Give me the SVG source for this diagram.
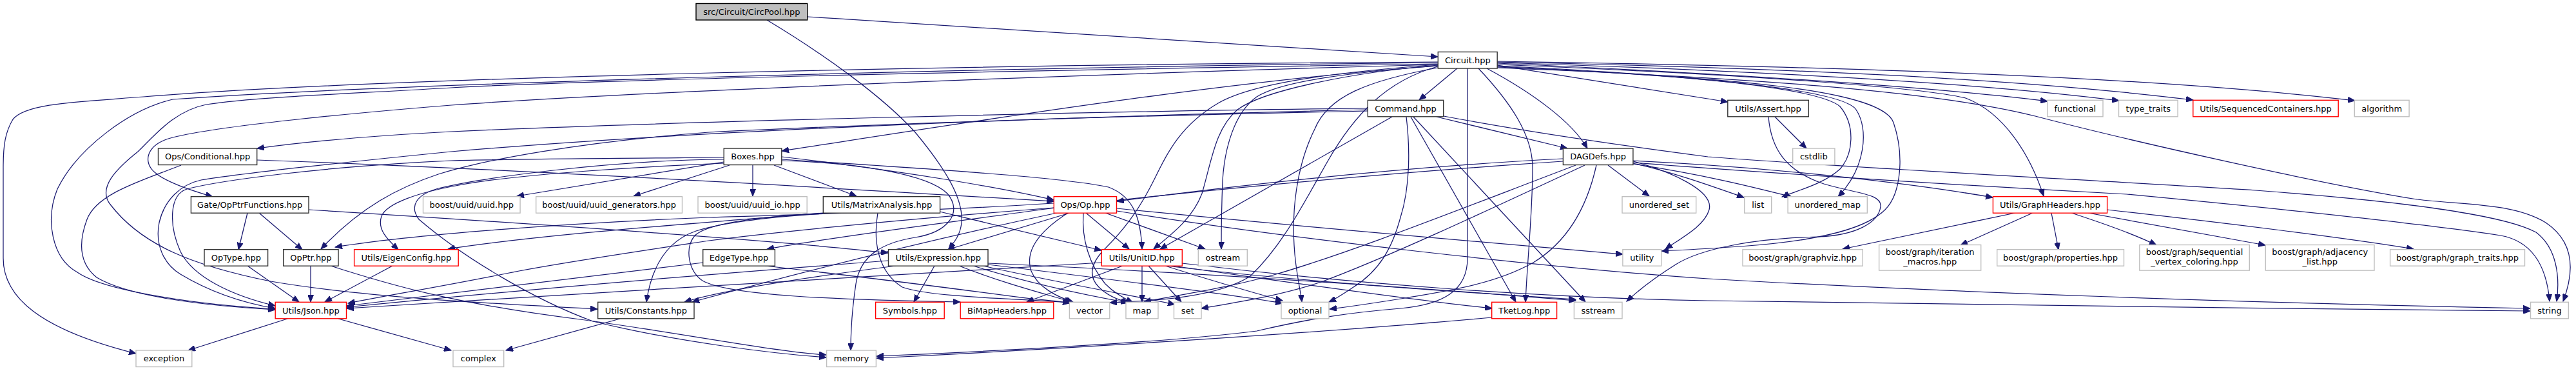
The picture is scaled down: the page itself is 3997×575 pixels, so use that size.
<svg xmlns="http://www.w3.org/2000/svg" width="3997" height="575" viewBox="0 0 3997 575">
<defs>
<marker id="a" markerUnits="userSpaceOnUse" markerWidth="12" markerHeight="9" refX="11" refY="4.5" orient="auto"><path d="M0,0 L11,4.5 L0,9 z" fill="#191970" stroke="#191970" stroke-width="1"/></marker>
<style>
.e{fill:none;stroke:#191970;stroke-width:1.25;marker-end:url(#a)}
rect{fill:#fff;stroke-width:1.4}
.k rect{stroke:#333}
.r rect{stroke:#ff0000}
.g rect{stroke:#bfbfbf}
.root rect{fill:#bfbfbf;stroke:#000}
text{font-family:"DejaVu Sans","Liberation Sans",sans-serif;font-size:13px;text-anchor:middle;fill:#000}
</style>
</defs>
<rect x="0" y="0" width="3997" height="575" fill="#fff" stroke="none"/>
<g id="edges">
<path class="e" d="M1253,26 C1600,48 1950,70 2231,88"/>
<path class="e" d="M1190,31 C1280,85 1370,150 1420,205 C1470,265 1495,310 1492,345 C1490,365 1480,376 1472,386"/>
<path class="e" d="M2261,106 L2202,155"/>
<path class="e" d="M2231,102 C1900,125 1500,190 1213,234"/>
<path class="e" d="M2307,106 C2380,145 2440,190 2463,230"/>
<path class="e" d="M2323,101 C2450,122 2580,142 2681,158"/>
<path class="e" d="M2323,98 C2700,115 3000,135 3177,157"/>
<path class="e" d="M2323,97 C2800,112 3100,132 3288,156"/>
<path class="e" d="M2323,96 C2900,108 3200,130 3403,155"/>
<path class="e" d="M2323,95 C2900,104 3350,120 3654,156"/>
<path class="e" d="M2323,100 C2700,115 2980,135 3050,152 C3110,175 3150,240 3171,304"/>
<path class="e" d="M2323,102 C2600,115 2820,135 2855,165 C2880,195 2875,240 2855,262 C2830,285 2790,295 2765,305"/>
<path class="e" d="M2323,103 C2650,118 2860,140 2880,170 C2900,200 2895,260 2852,305"/>
<path class="e" d="M2323,104 C2700,120 2920,140 2938,190 C2955,240 2950,300 2925,325 C2890,360 2800,375 2700,382 C2640,386 2600,388 2578,389"/>
<path class="e" d="M2744,181 C2748,230 2770,265 2830,285 C2880,300 2920,300 2918,320 C2915,345 2880,365 2820,367 C2720,370 2640,385 2600,410 C2565,432 2540,452 2524,467"/>
<path class="e" d="M2323,105 C2700,120 3000,140 3158,180 C3300,217 3600,285 3750,309 C3830,318 3900,315 3950,345 C3995,375 3995,420 3977,467"/>
<path class="e" d="M2294,106 C2345,160 2378,210 2378,260 C2378,330 2370,400 2367,468"/>
<path class="e" d="M2277,106 L2277,400 C2277,450 2240,472 2173,478 C2100,484 2040,492 1950,513 C1800,532 1500,546 1360,552"/>
<path class="e" d="M2315,492 C2100,512 1700,538 1360,555"/>
<path class="e" d="M2236,104 C2120,125 2060,150 2040,200 C2010,260 2005,330 2008,380 C2010,420 2018,450 2020,468"/>
<path class="e" d="M2231,103 C2150,125 2100,180 2060,250 C2020,320 1990,380 1940,428 C1890,460 1800,466 1722,469"/>
<path class="e" d="M2231,100 C2100,110 1950,125 1890,160 C1830,195 1810,240 1790,280 C1765,330 1740,360 1715,385 C1690,410 1690,430 1705,445 C1718,458 1735,465 1752,469"/>
<path class="e" d="M2231,101 C2100,112 1960,140 1920,170 C1885,200 1880,250 1865,300 C1850,340 1815,365 1790,386"/>
<path class="e" d="M2231,102 C2100,112 1990,125 1950,150 C1915,175 1900,230 1897,280 C1895,330 1895,360 1895,386"/>
<path class="e" d="M2231,97 C1500,105 600,130 268,154 C200,170 120,230 89,293 C70,340 80,400 120,422 C160,450 300,472 427,479"/>
<path class="e" d="M2231,96 C1500,100 600,120 223,150 C120,158 40,160 20,185 C8,205 5,225 5,260 L5,400 C5,460 60,510 211,548"/>
<path class="e" d="M2231,99 C1500,110 900,125 700,136 C550,145 400,150 320,162 C270,172 240,210 214,235 C180,262 150,292 172,318 C220,380 300,412 420,436 C560,460 750,470 927,479"/>
<path class="e" d="M2231,100 C1500,120 900,148 700,163 C550,175 340,195 268,213 C225,224 222,252 240,267 C258,283 300,296 330,305"/>
<path class="e" d="M2122,168 C1700,172 1000,190 700,204 C550,212 470,220 399,230"/>
<path class="e" d="M2122,170 C1700,180 1100,200 700,235 C550,250 380,268 312,279 C280,286 255,310 247,345 C240,380 255,410 280,425 C330,455 380,470 427,478"/>
<path class="e" d="M2122,172 C1700,180 1300,195 1100,205 C900,220 750,248 680,270 C620,290 560,320 498,386"/>
<path class="e" d="M2160,181 L1800,386"/>
<path class="e" d="M2182,181 C2188,230 2188,290 2173,337 C2160,385 2140,420 2100,445 C2085,455 2075,462 2062,468"/>
<path class="e" d="M2189,181 L2352,468"/>
<path class="e" d="M2193,181 L2460,468"/>
<path class="e" d="M2229,181 L2432,230"/>
<path class="e" d="M2240,180 C2400,210 2550,230 2650,243 C2900,262 3300,282 3500,295 C3700,310 3880,330 3935,360 C3968,385 3972,430 3967,467"/>
<path class="e" d="M2754,181 L2803,230"/>
<path class="e" d="M2425,246 C2150,260 1900,290 1733,312"/>
<path class="e" d="M2425,250 C2150,268 1800,300 1600,327 C1450,348 1300,366 1190,386"/>
<path class="e" d="M2445,256 C2250,330 2100,390 1980,425 C1900,448 1820,458 1775,468"/>
<path class="e" d="M2459,256 C2300,330 2150,400 2050,437 C1980,460 1910,470 1864,478"/>
<path class="e" d="M2477,256 C2465,310 2440,370 2379,407 C2320,440 2250,450 2180,462 C2130,470 2090,476 2063,479"/>
<path class="e" d="M2495,256 L2559,304"/>
<path class="e" d="M2534,250 C2590,265 2660,295 2652,325 C2645,350 2610,368 2584,386"/>
<path class="e" d="M2534,253 C2600,268 2660,290 2706,306"/>
<path class="e" d="M2534,254 C2650,272 2720,290 2780,305"/>
<path class="e" d="M2534,249 C2800,262 3000,290 3092,306"/>
<path class="e" d="M2534,252 C2700,265 3000,285 3300,301 C3500,320 3750,345 3880,365 C3935,375 3952,420 3956,467"/>
<path class="e" d="M281,256 C220,280 150,300 135,340 C120,380 125,410 150,430 C200,460 320,474 427,480"/>
<path class="e" d="M399,248 C800,262 1300,292 1635,312"/>
<path class="e" d="M384,330 L370,387"/>
<path class="e" d="M402,330 L469,387"/>
<path class="e" d="M479,325 C800,345 1200,372 1378,392"/>
<path class="e" d="M384,412 L464,468"/>
<path class="e" d="M482,412 L482,468"/>
<path class="e" d="M513,412 C600,440 700,470 900,495 C1050,515 1200,545 1282,550"/>
<path class="e" d="M609,412 L504,468"/>
<path class="e" d="M446,494 L292,543"/>
<path class="e" d="M525,494 L700,543"/>
<path class="e" d="M962,494 L785,543"/>
<path class="e" d="M1123,251 L802,304"/>
<path class="e" d="M1132,256 L983,304"/>
<path class="e" d="M1168,256 L1168,304"/>
<path class="e" d="M1201,256 L1329,304"/>
<path class="e" d="M1123,244 C1000,245 800,246 700,249 C500,258 340,280 290,293 C262,302 262,350 280,390 C300,430 360,458 427,474"/>
<path class="e" d="M1123,253 C1000,258 800,270 712,287 C650,298 600,315 592,335 C585,355 600,370 618,387"/>
<path class="e" d="M1213,243 C1400,265 1550,290 1635,310"/>
<path class="e" d="M1213,247 C1450,262 1650,275 1720,290 C1760,305 1770,340 1772,386"/>
<path class="e" d="M1123,247 C950,248 750,275 680,292 C645,302 635,320 650,340 C720,400 830,465 920,498 C1050,530 1200,548 1282,554"/>
<path class="e" d="M1213,249 C1330,252 1440,270 1470,300 C1495,330 1470,360 1420,368 C1370,376 1335,395 1328,440 C1322,480 1320,510 1320,543"/>
<path class="e" d="M1277,330 C1100,345 850,362 695,386"/>
<path class="e" d="M1277,331 C1200,336 1120,345 1080,358 C1030,375 1010,420 1003,468"/>
<path class="e" d="M1290,330 C1180,335 1100,345 1078,365 C1062,385 1068,420 1090,435 C1130,458 1300,465 1490,468"/>
<path class="e" d="M1362,330 C1355,370 1360,420 1400,445 C1450,462 1580,462 1660,469"/>
<path class="e" d="M1458,328 L1709,388"/>
<path class="e" d="M1091,407 L538,474"/>
<path class="e" d="M1187,412 C1350,430 1500,450 1600,463 C1630,466 1645,467 1660,470"/>
<path class="e" d="M1450,412 L1418,468"/>
<path class="e" d="M1378,404 C1100,425 800,450 538,476"/>
<path class="e" d="M1390,412 C1250,430 1120,450 1062,468"/>
<path class="e" d="M1488,412 C1560,440 1620,455 1663,468"/>
<path class="e" d="M1510,412 C1600,440 1700,460 1750,469"/>
<path class="e" d="M1525,412 C1650,440 1780,462 1823,472"/>
<path class="e" d="M1533,410 C1700,430 1900,455 1990,470"/>
<path class="e" d="M1533,408 C1800,420 2200,445 2445,466"/>
<path class="e" d="M1742,412 L1593,468"/>
<path class="e" d="M1772,412 L1772,468"/>
<path class="e" d="M1782,412 L1833,468"/>
<path class="e" d="M1808,412 C1880,435 1950,455 1990,466"/>
<path class="e" d="M1709,407 C1400,425 900,455 538,478"/>
<path class="e" d="M1810,412 C2000,435 2300,455 2445,464"/>
<path class="e" d="M1812,411 C1950,430 2150,460 2315,478"/>
<path class="e" d="M1834,408 C2100,440 2400,462 2650,466 C3000,472 3500,478 3926,482"/>
<path class="e" d="M1635,315 C1400,330 1150,335 1100,337 C900,345 650,362 520,383"/>
<path class="e" d="M1635,322 C1400,340 1200,360 1100,373 C1000,388 850,410 780,425 C680,445 600,458 540,470"/>
<path class="e" d="M1640,330 C1450,370 1250,420 1074,468"/>
<path class="e" d="M1660,330 L1470,387"/>
<path class="e" d="M1685,330 L1752,386"/>
<path class="e" d="M1715,330 L1870,386"/>
<path class="e" d="M1657,330 C1610,360 1590,390 1600,420 C1610,445 1640,460 1665,468"/>
<path class="e" d="M1681,330 C1678,370 1690,410 1715,440 C1730,455 1745,463 1758,469"/>
<path class="e" d="M1733,323 C2000,350 2300,375 2518,394"/>
<path class="e" d="M1733,327 C2000,370 2400,415 2650,432 C3000,452 3500,470 3926,478"/>
<path class="e" d="M3127,330 L2859,386"/>
<path class="e" d="M3154,330 L3042,380"/>
<path class="e" d="M3183,330 L3194,387"/>
<path class="e" d="M3214,330 C3260,345 3310,362 3346,380"/>
<path class="e" d="M3240,330 C3350,350 3450,368 3515,380"/>
<path class="e" d="M3269,325 C3450,345 3650,370 3745,386"/>
</g>
<g id="nodes">
<g id="n-circpool" class="root"><rect x="1080" y="5.5" width="172.7" height="25.5"/><text x="1166.4" y="22.7">src/Circuit/CircPool.hpp</text></g>
<g id="n-circuit" class="k"><rect x="2231.3" y="80.5" width="91.9" height="25.5"/><text x="2277.3" y="97.7">Circuit.hpp</text></g>
<g id="n-command" class="k"><rect x="2122.3" y="155.3" width="117.4" height="25.5"/><text x="2181" y="172.5">Command.hpp</text></g>
<g id="n-assert" class="k"><rect x="2680.8" y="155.3" width="125.5" height="25.5"/><text x="2743.5" y="172.5">Utils/Assert.hpp</text></g>
<g id="n-functional" class="g"><rect x="3176.8" y="155.3" width="86.2" height="25.5"/><text x="3219.9" y="172.5">functional</text></g>
<g id="n-type-traits" class="g"><rect x="3287.5" y="155.3" width="91.6" height="25.5"/><text x="3333.3" y="172.5">type_traits</text></g>
<g id="n-seqcont" class="r"><rect x="3402.8" y="155.3" width="225.4" height="25.5"/><text x="3515.5" y="172.5">Utils/SequencedContainers.hpp</text></g>
<g id="n-algorithm" class="g"><rect x="3653.3" y="155.3" width="84.8" height="25.5"/><text x="3695.7" y="172.5">algorithm</text></g>
<g id="n-conditional" class="k"><rect x="245.5" y="230" width="153.2" height="25.5"/><text x="322.1" y="247.2">Ops/Conditional.hpp</text></g>
<g id="n-boxes" class="k"><rect x="1123.2" y="230" width="89.6" height="25.5"/><text x="1168" y="247.2">Boxes.hpp</text></g>
<g id="n-dagdefs" class="k"><rect x="2425.4" y="230" width="108.5" height="25.5"/><text x="2479.6" y="247.2">DAGDefs.hpp</text></g>
<g id="n-cstdlib" class="g"><rect x="2781.7" y="230" width="65.2" height="25.5"/><text x="2814.3" y="247.2">cstdlib</text></g>
<g id="n-opptrfunctions" class="k"><rect x="296.4" y="304.7" width="182.6" height="25.5"/><text x="387.7" y="321.9">Gate/OpPtrFunctions.hpp</text></g>
<g id="n-uuid" class="g"><rect x="656.5" y="304.7" width="150.6" height="25.5"/><text x="731.8" y="321.9">boost/uuid/uuid.hpp</text></g>
<g id="n-uuid-gen" class="g"><rect x="831.7" y="304.7" width="226.8" height="25.5"/><text x="945.1" y="321.9">boost/uuid/uuid_generators.hpp</text></g>
<g id="n-uuid-io" class="g"><rect x="1083" y="304.7" width="169.2" height="25.5"/><text x="1167.6" y="321.9">boost/uuid/uuid_io.hpp</text></g>
<g id="n-matrixanalysis" class="k"><rect x="1277.3" y="304.7" width="181.3" height="25.5"/><text x="1368" y="321.9">Utils/MatrixAnalysis.hpp</text></g>
<g id="n-op" class="r"><rect x="1635.3" y="304.7" width="97.2" height="25.5"/><text x="1683.9" y="321.9">Ops/Op.hpp</text></g>
<g id="n-unordered-set" class="g"><rect x="2517" y="304.7" width="114.7" height="25.5"/><text x="2574.4" y="321.9">unordered_set</text></g>
<g id="n-list" class="g"><rect x="2706.7" y="304.7" width="42" height="25.5"/><text x="2727.7" y="321.9">list</text></g>
<g id="n-unordered-map" class="g"><rect x="2774.1" y="304.7" width="123.2" height="25.5"/><text x="2835.7" y="321.9">unordered_map</text></g>
<g id="n-graphheaders" class="r"><rect x="3092.4" y="304.7" width="177.2" height="25.5"/><text x="3181" y="321.9">Utils/GraphHeaders.hpp</text></g>
<g id="n-optype" class="k"><rect x="317" y="386.7" width="98.6" height="25.5"/><text x="366.3" y="403.9">OpType.hpp</text></g>
<g id="n-opptr" class="k"><rect x="439.7" y="386.7" width="85.3" height="25.5"/><text x="482.4" y="403.9">OpPtr.hpp</text></g>
<g id="n-eigenconfig" class="r"><rect x="549.6" y="386.7" width="161.6" height="25.5"/><text x="630.4" y="403.9">Utils/EigenConfig.hpp</text></g>
<g id="n-edgetype" class="k"><rect x="1090.7" y="386.7" width="111.7" height="25.5"/><text x="1146.6" y="403.9">EdgeType.hpp</text></g>
<g id="n-expression" class="k"><rect x="1378.5" y="386.7" width="154.5" height="25.5"/><text x="1455.8" y="403.9">Utils/Expression.hpp</text></g>
<g id="n-unitid" class="r"><rect x="1709.3" y="386.7" width="125" height="25.5"/><text x="1771.8" y="403.9">Utils/UnitID.hpp</text></g>
<g id="n-ostream" class="g"><rect x="1859.3" y="386.7" width="76" height="25.5"/><text x="1897.3" y="403.9">ostream</text></g>
<g id="n-utility" class="g"><rect x="2517.9" y="386.7" width="59.8" height="25.5"/><text x="2547.8" y="403.9">utility</text></g>
<g id="n-graphviz" class="g"><rect x="2704" y="386.7" width="186.2" height="25.5"/><text x="2797.1" y="403.9">boost/graph/graphviz.hpp</text></g>
<g id="n-iteration" class="g"><rect x="2915.6" y="379.5" width="158.1" height="39.6"/><text x="2994.7" y="395.3">boost/graph/iteration</text><text x="2994.7" y="409.8">_macros.hpp</text></g>
<g id="n-properties" class="g"><rect x="3098.7" y="386.7" width="196.8" height="25.5"/><text x="3197.1" y="403.9">boost/graph/properties.hpp</text></g>
<g id="n-seqcolor" class="g"><rect x="3319.8" y="379.5" width="170.5" height="39.6"/><text x="3405" y="395.3">boost/graph/sequential</text><text x="3405" y="409.8">_vertex_coloring.hpp</text></g>
<g id="n-adjlist" class="g"><rect x="3515.3" y="379.5" width="168.7" height="39.6"/><text x="3599.7" y="395.3">boost/graph/adjacency</text><text x="3599.7" y="409.8">_list.hpp</text></g>
<g id="n-graphtraits" class="g"><rect x="3708.6" y="386.7" width="208.9" height="25.5"/><text x="3813" y="403.9">boost/graph/graph_traits.hpp</text></g>
<g id="n-json" class="r"><rect x="427.2" y="468.3" width="110.3" height="25.5"/><text x="482.4" y="485.5">Utils/Json.hpp</text></g>
<g id="n-constants" class="k"><rect x="927.7" y="468.3" width="149.3" height="25.5"/><text x="1002.4" y="485.5">Utils/Constants.hpp</text></g>
<g id="n-symbols" class="r"><rect x="1358.6" y="468.3" width="106.6" height="25.5"/><text x="1411.9" y="485.5">Symbols.hpp</text></g>
<g id="n-bimap" class="r"><rect x="1490.2" y="468.3" width="144.6" height="25.5"/><text x="1562.5" y="485.5">BiMapHeaders.hpp</text></g>
<g id="n-vector" class="g"><rect x="1659.4" y="468.3" width="62.4" height="25.5"/><text x="1690.6" y="485.5">vector</text></g>
<g id="n-map" class="g"><rect x="1747" y="468.3" width="50" height="25.5"/><text x="1772" y="485.5">map</text></g>
<g id="n-set" class="g"><rect x="1821.5" y="468.3" width="42.5" height="25.5"/><text x="1842.8" y="485.5">set</text></g>
<g id="n-optional" class="g"><rect x="1988" y="468.3" width="74" height="25.5"/><text x="2025" y="485.5">optional</text></g>
<g id="n-tketlog" class="r"><rect x="2314.7" y="468.3" width="100.9" height="25.5"/><text x="2365.2" y="485.5">TketLog.hpp</text></g>
<g id="n-sstream" class="g"><rect x="2442.4" y="468.3" width="74.6" height="25.5"/><text x="2479.7" y="485.5">sstream</text></g>
<g id="n-string" class="g"><rect x="3926.5" y="468.3" width="58.9" height="25.5"/><text x="3956" y="485.5">string</text></g>
<g id="n-exception" class="g"><rect x="211" y="543" width="86.8" height="25.5"/><text x="254.4" y="560.2">exception</text></g>
<g id="n-complex" class="g"><rect x="703" y="543" width="78.7" height="25.5"/><text x="742.4" y="560.2">complex</text></g>
<g id="n-memory" class="g"><rect x="1282.6" y="543" width="76.8" height="25.5"/><text x="1321" y="560.2">memory</text></g>
</g>
</svg>
